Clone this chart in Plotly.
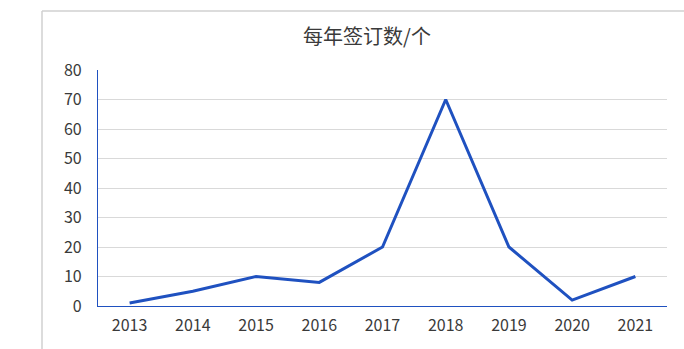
import plotly.graph_objects as go

years = ["2013", "2014", "2015", "2016", "2017", "2018", "2019", "2020", "2021"]
counts = [1, 5, 10, 8, 20, 70, 20, 2, 10]
title = "每年签订数/个"

font = "Noto Sans CJK SC, Microsoft YaHei, sans-serif"
blue = "#1f51c0"
txt = "#3a3a3a"

fig = go.Figure()
fig.add_trace(go.Scatter(x=years, y=counts, mode="lines",
                         line=dict(color=blue, width=3), hoverinfo="x+y"))

fig.update_layout(
    width=684, height=349,
    margin=dict(l=98, r=17, t=70, b=43),
    paper_bgcolor="white", plot_bgcolor="white",
    showlegend=False,
    title=dict(text=title, x=367 / 684, xanchor="center", y=1 - 37 / 349, yanchor="middle",
               font=dict(family=font, size=20, color=txt)),
    font=dict(family=font, size=16, color=txt),
)
fig.update_xaxes(type="category", range=[-0.5, 8.5], showline=True, linecolor=blue, linewidth=1.3,
                 showgrid=False, ticks="", ticklabelstandoff=5,
                 tickfont=dict(size=16, color=txt), zeroline=False)
fig.update_yaxes(range=[0, 80], dtick=10, showline=True, linecolor=blue, linewidth=1.3,
                 showgrid=True, gridcolor="#d9d9d9", gridwidth=1, zeroline=False,
                 ticks="", ticklabelstandoff=12, tickfont=dict(size=16, color=txt))

# outer chart frame (left and top border)
fig.add_shape(type="line", xref="paper", yref="paper", x0=(42 - 98) / 569, x1=(42 - 98) / 569,
              y0=(306 - 349) / 236, y1=(306 - 11) / 236, line=dict(color="#d0d0d0", width=1.5))
fig.add_shape(type="line", xref="paper", yref="paper", x0=(42 - 98) / 569, x1=(684 - 98) / 569,
              y0=(306 - 11) / 236, y1=(306 - 11) / 236, line=dict(color="#d0d0d0", width=1.5))

fig.write_html("out.html")
